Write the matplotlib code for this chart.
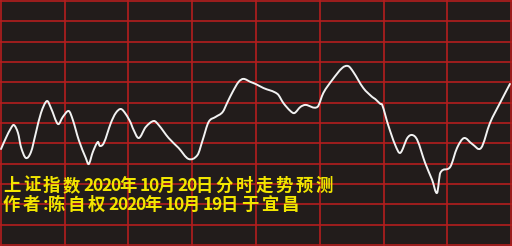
import matplotlib
matplotlib.use("Agg")
import matplotlib.pyplot as plt
from matplotlib.path import Path
from matplotlib.patches import PathPatch

# minute of the trading session (0-240) and index level in grid units
minutes = [0, 2.3, 4.7, 6.1, 8.0, 9.4, 11.7, 14.1, 16.4, 18.8,
           21.6, 23.5, 26.8, 29.1, 31.9, 33.8, 36.6, 39.9, 41.3, 43.2,
           45.6, 46.5, 48.4, 51.7, 54.0, 56.4, 58.7, 61.1, 62.0, 64.8,
           68.1, 71.9, 74.2, 78.9, 83.6, 88.3, 92.5, 94.9, 97.7, 101.0,
           104.3, 106.6, 109.0, 111.8, 114.1, 117.4, 119.8, 123.5, 130.1, 132.9,
           136.2, 138.1, 140.9, 143.3, 148.9, 151.7, 155.9, 160.6, 163.4, 165.8,
           170.5, 174.7, 176.1, 178.5, 179.4, 182.2, 185.5, 187.9, 191.2, 193.5,
           195.9, 199.6, 202.9, 205.2, 206.7, 211.4, 214.6, 217.9, 221.7, 225.9,
           230.1, 234.8, 239.5]
level = [4.72, 5.26, 5.75, 5.90, 5.51, 4.82, 4.28, 4.57, 5.51, 6.49,
         7.08, 6.74, 5.95, 6.30, 6.59, 6.15, 5.16, 4.28, 3.98, 4.57,
         5.07, 4.87, 5.02, 6.00, 6.49, 6.69, 6.44, 6.00, 5.75, 5.26,
         5.80, 6.10, 5.90, 5.26, 4.77, 4.23, 4.43, 5.16, 6.05, 6.30,
         6.54, 7.03, 7.53, 8.02, 8.17, 8.02, 7.92, 7.72, 7.43, 6.98,
         6.59, 6.49, 6.79, 6.89, 6.79, 7.48, 8.12, 8.71, 8.80, 8.51,
         7.72, 7.28, 7.18, 6.94, 6.89, 5.90, 4.92, 4.53, 5.26, 5.41,
         5.16, 4.03, 3.20, 2.56, 3.54, 3.84, 4.77, 5.26, 4.97, 4.77,
         6.00, 6.98, 7.92]

x_grid = [0, 30, 60, 90, 120, 150, 180, 210, 240]
y_grid = list(range(13))

title_line = "上证指数2020年10月20日分时走势预测"
author_line = "作者:陈自权2020年10月19日于宜昌"

bg = "#221c1b"
fig = plt.figure(figsize=(5.12, 2.46), dpi=100, facecolor=bg)
ax = fig.add_axes([0, 0, 1, 1])
ax.set_facecolor(bg)
ax.set_xlim(-0.47, 240.47)
ax.set_ylim(-0.05, 12.05)
ax.axis("off")

for gx in x_grid:
    ax.axvline(gx, color="#b41e1e", lw=1.2, zorder=1)
for gy in y_grid:
    ax.axhline(gy, color="#b41e1e", lw=1.2, zorder=1)

# smooth line: cubic Hermite segments through the read points
n = len(minutes)
slopes = []
for i in range(n):
    a = max(i - 1, 0)
    b = min(i + 1, n - 1)
    slopes.append((level[b] - level[a]) / (minutes[b] - minutes[a]))
verts = [(minutes[0], level[0])]
codes = [Path.MOVETO]
for i in range(n - 1):
    dx = (minutes[i + 1] - minutes[i]) / 3
    verts += [(minutes[i] + dx, level[i] + slopes[i] * dx),
              (minutes[i + 1] - dx, level[i + 1] - slopes[i + 1] * dx),
              (minutes[i + 1], level[i + 1])]
    codes += [Path.CURVE4] * 3
ax.add_patch(PathPatch(Path(verts, codes), fill=False, edgecolor="#f2f2f2",
                       lw=1.4, joinstyle="round", capstyle="round", zorder=3))


def put_text(s, x0, yc):
    # draw char by char to mimic the wide character spacing
    x = x0
    for ch in s:
        fig.text(x / 512, 1 - yc / 246, ch, color="#f2e600", fontsize=12.5,
                 fontweight="bold", family=["Noto Sans CJK SC", "DejaVu Sans"],
                 ha="left", va="center", zorder=5)
        if ch == ":":
            x += 5
        elif ch.isdigit():
            x += 9.1
        else:
            x += 20


put_text(title_line, 3, 186)
put_text(author_line, 3, 205)

fig.savefig("out.png", dpi=100, facecolor=bg)
